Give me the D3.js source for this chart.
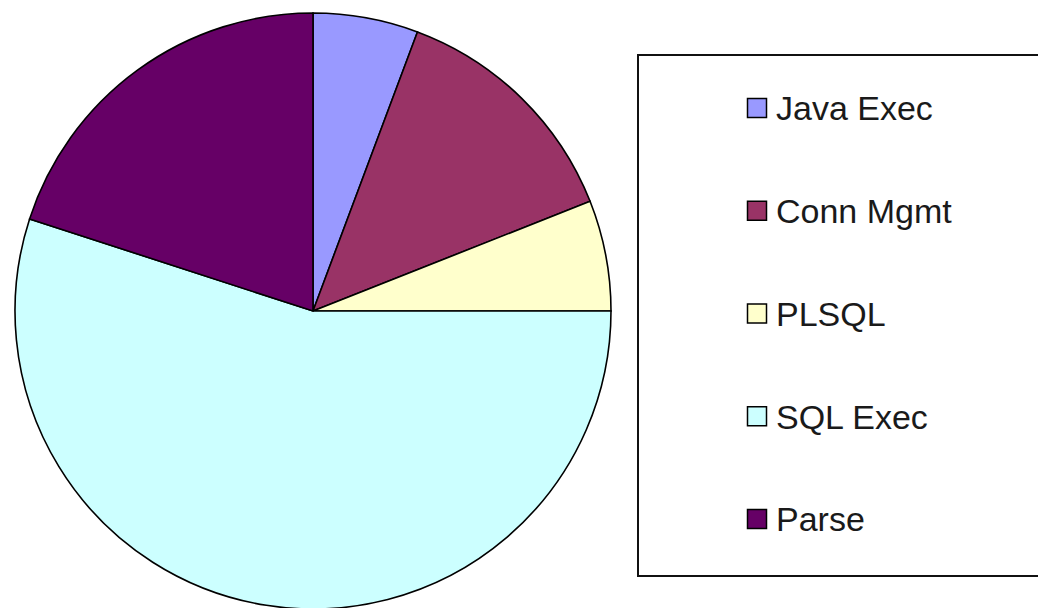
<!DOCTYPE html>
<html>
<head>
<meta charset="utf-8">
<script src="https://cdn.jsdelivr.net/npm/d3@7"></script>
<style>
  html, body { margin: 0; padding: 0; background: #fff; }
  svg { display: block; }
</style>
</head>
<body>
<svg id="chart" width="1038" height="608"></svg>
<script>
const categories = ["Java Exec", "Conn Mgmt", "PLSQL", "SQL Exec", "Parse"];
const values = [5.7, 13.3, 6.0, 55.0, 20.0];
const colors = ["#9999FF", "#993366", "#FFFFCC", "#CCFFFF", "#660066"];

const svg = d3.select("#chart");
const cx = 313, cy = 311, r = 298;

const pie = d3.pie().sort(null).value(d => d.v);
const arcs = pie(categories.map((c, i) => ({ c, v: values[i], col: colors[i] })));
const arc = d3.arc().innerRadius(0).outerRadius(r);

svg.append("g")
  .attr("transform", `translate(${cx},${cy})`)
  .selectAll("path")
  .data(arcs)
  .join("path")
  .attr("d", arc)
  .attr("fill", d => d.data.col)
  .attr("stroke", "#000")
  .attr("stroke-width", 1.6)
  .attr("stroke-linejoin", "miter");

// Legend
const lx = 638, ly = 55, lw = 420, lh = 521;
svg.append("rect")
  .attr("x", lx).attr("y", ly).attr("width", lw).attr("height", lh)
  .attr("fill", "#fff").attr("stroke", "#111").attr("stroke-width", 2);

const y = d3.scalePoint().domain(categories).range([108, 519]);
const items = svg.append("g").selectAll("g")
  .data(categories)
  .join("g")
  .attr("transform", d => `translate(747,${y(d)})`);

items.append("rect")
  .attr("x", 0.5).attr("y", -9.5).attr("width", 19).attr("height", 19)
  .attr("fill", (d, i) => colors[i])
  .attr("stroke", "#000").attr("stroke-width", 1.5);

items.append("text")
  .attr("x", 29).attr("y", 0)
  .attr("dy", "0.36em")
  .attr("font-family", "'Liberation Sans', Arial, sans-serif")
  .attr("font-size", 34)
  .attr("fill", "#1a1a1a")
  .text(d => d);
</script>
</body>
</html>
